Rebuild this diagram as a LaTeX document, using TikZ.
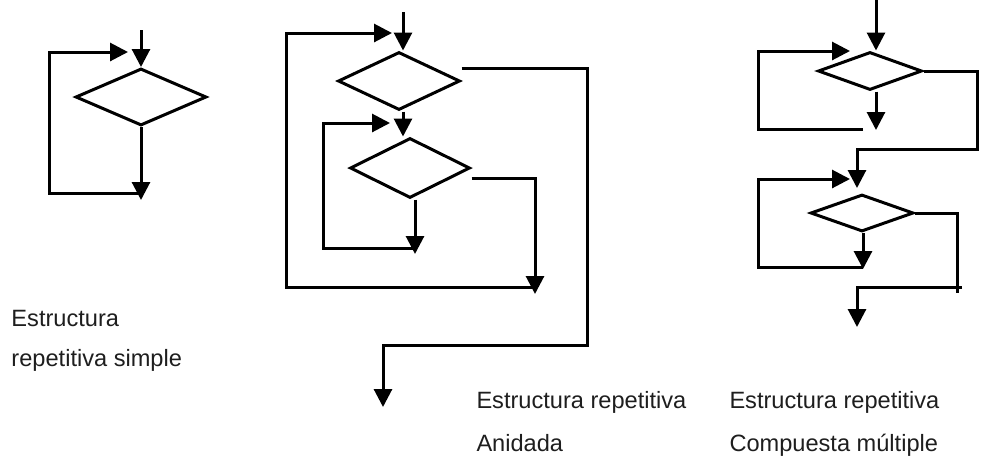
\documentclass[tikz,border=0pt]{standalone}
\usepackage{fontspec}
\setmainfont{Liberation Sans}
\usetikzlibrary{arrows.meta,shapes.geometric}
\begin{document}
\begin{tikzpicture}[x=1pt,y=-1pt,
  line width=3pt,
  arr/.style={-{Triangle[length=18pt,width=18pt]}},
  dia/.style={diamond,draw,inner sep=0pt,line width=3pt},
  lbl/.style={anchor=base west,inner sep=0pt,text={rgb,255:red,30;green,30;blue,30},font=\fontsize{23.6}{28}\selectfont}]
\useasboundingbox (0,0) rectangle (996,475);

% ---------- simple ----------
\node[dia,minimum width=131pt,minimum height=57pt] (d0) at (141,97) {};
\coordinate (in0) at (141,30);
\coordinate (out0) at (141,200);
\coordinate (lb0) at (141,193);
\coordinate (lc0) at (49,193);
\coordinate (lt0) at (128,52);
\draw[arr] (in0) -- (d0.north);
\draw[arr] (d0.south) -- (out0);
\draw[arr] (lb0) -- (lc0) |- (lt0);

% ---------- anidada ----------
\node[dia,minimum width=122pt,minimum height=58pt] (d1) at (399,81) {};
\node[dia,minimum width=120pt,minimum height=60pt] (d2) at (410,168) {};
\coordinate (in1) at (403,12);
\coordinate (m12) at (403,110);
\coordinate (ot1) at (392,33);
\coordinate (oc1) at (286,287);
\coordinate (ob1) at (535,287);
\coordinate (it2) at (390,123);
\coordinate (ic2) at (323,248);
\coordinate (ib2) at (415,248);
\coordinate (o2) at (415,254);
\coordinate (x2) at (535,294);
\coordinate (x1a) at (587,345);
\coordinate (x1) at (383,407);
\draw[arr] (in1) -- (in1 |- d1.north);
\draw[arr] (d1.south -| m12) -- (m12 |- d2.north);
\draw[arr] (ob1) -- (oc1) |- (ot1);
\draw[arr] (ib2) -- (ic2) |- (it2);
\draw[arr] (d2.south -| o2) -- (o2);
\draw[arr] ([yshift=-10pt]d2.east) -| (x2);
\draw[arr] ([yshift=13pt]d1.east) -| (x1a) -| (x1);

% ---------- compuesta multiple ----------
\node[dia,minimum width=104pt,minimum height=38pt] (dA) at (870,71) {};
\node[dia,minimum width=103pt,minimum height=37pt] (dB) at (862,213) {};
\coordinate (inA) at (876,0);
\coordinate (tA) at (850,51);
\coordinate (cA) at (758,129);
\coordinate (bA) at (863,129);
\coordinate (oA) at (876,130);
\coordinate (xAa) at (977,149);
\coordinate (xA) at (857,188);
\coordinate (tB) at (850,179);
\coordinate (cB) at (758,267);
\coordinate (bB) at (863,267);
\coordinate (oB) at (863,269);
\coordinate (xBa) at (957,293);
\coordinate (fB) at (962,287);
\coordinate (outB) at (857,327);
\draw[arr] (inA) -- (inA |- dA.north);
\draw[arr] (bA) -- (cA) |- (tA);
\draw[arr] (dA.south -| oA) -- (oA);
\draw[arr] (dA.east) -| (xAa) -| (xA);
\draw[arr] (bB) -- (cB) |- (tB);
\draw[arr] (dB.south -| oB) -- (oB);
\draw (dB.east) -| (xBa);
\draw[arr] (fB) -| (outB);

% ---------- labels ----------
\node[lbl] (t1) at (10,326) {Estructura};
\node[lbl] (t2) at (10,366) {repetitiva simple};
\node[lbl] (t3) at (475,408) {Estructura repetitiva};
\node[lbl] (t4) at (475,451) {Anidada};
\node[lbl] (t5) at (728,408) {Estructura repetitiva};
\node[lbl] (t6) at (728,451) {Compuesta múltiple};
\end{tikzpicture}
\end{document}
